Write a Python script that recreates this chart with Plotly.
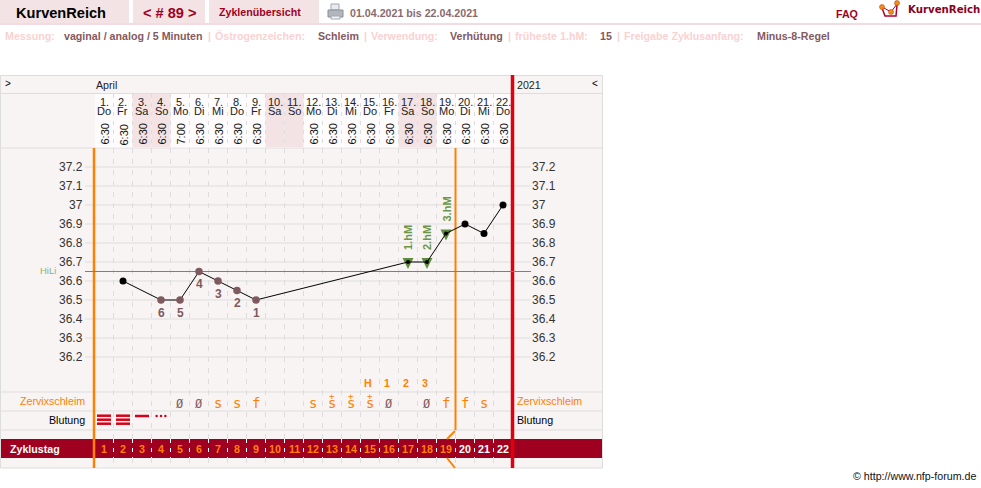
import plotly.graph_objects as go

W, H = 981, 488
# ---------- data ----------
days = list(range(1, 23))
date_labels = [f"{d}." for d in days]
weekdays = ["Do","Fr","Sa","So","Mo","Di","Mi","Do","Fr","Sa","So","Mo","Di","Mi","Do","Fr","Sa","So","Mo","Di","Mi","Do"]
times = ["6:30","6:30","6:30","6:30","7:00","6:30","6:30","6:30","6:30","","","6:30","6:30","6:30","6:30","6:30","6:30","6:30","6:30","6:30","6:30","6:30"]
temp_days = [2, 4, 5, 6, 7, 8, 9, 17, 18, 19, 20, 21, 22]
temps = [36.6, 36.5, 36.5, 36.65, 36.6, 36.55, 36.5, 36.7, 36.7, 36.85, 36.9, 36.85, 37.0]
counted_days = [4, 5, 6, 7, 8, 9]
counted_temps = [36.5, 36.5, 36.65, 36.6, 36.55, 36.5]
counted_labels = ["6", "5", "4", "3", "2", "1"]
hm_days = [17, 18, 19]
hm_temps = [36.7, 36.7, 36.85]
hm_labels = ["1.hM", "2.hM", "3.hM"]
hili = 36.65
y_ticks = [36.2, 36.3, 36.4, 36.5, 36.6, 36.7, 36.8, 36.9, 37.0, 37.1, 37.2]
y_tick_labels = ["36.2","36.3","36.4","36.5","36.6","36.7","36.8","36.9","37","37.1","37.2"]
mucus_days = [5, 6, 7, 8, 9, 12, 13, 14, 15, 16, 18, 19, 20, 21]
mucus = ["Ø","Ø","s","s","f","s","s+","s+","s+","Ø","Ø","f","f","s"]
peak_days = [15, 16, 17, 18]
peak_labels = ["H", "1", "2", "3"]
bleed_days = [1, 2, 3, 4]
bleed = [3, 3, 1, 0]
weekend_days = [3, 4, 10, 11, 17, 18]

# ---------- scale helpers ----------
X0, DX = 104, 19           # px of day 1, px per day
Y0, DY = 167, 190          # px of 37.2, px per 1 degree
def px2day(p): return 1 + (p - X0) / DX
def py2t(p): return 37.2 - (p - Y0) / DY
def day2px(d): return X0 + (d - 1) * DX
def t2py(t): return Y0 + (37.2 - t) * DY
def pxx(p): return p / W
def pxy(p): return 1 - p / H

PANEL, LINE, ROSE, DARKRED = "#f9f4f4", "#dddddd", "#f3e3e5", "#a00020"
ORANGE, RED, GREEN, BROWN = "#ff8000", "#e00010", "#5f8c3c", "#7e5a5e"
PINK, MUTED = "#fad2d2", "#84595f"
SANS = "Liberation Sans, Arial, sans-serif"
NARROW = "Liberation Sans Narrow, Liberation Sans, Arial, sans-serif"
MONO = "DejaVu Sans Mono, monospace"
F8 = 10.67

shapes, ann = [], []
def rect(x0, y0, x1, y1, fill, line=None):
    shapes.append(dict(type="rect", xref="paper", yref="paper", x0=pxx(x0), x1=pxx(x1), y0=pxy(y0), y1=pxy(y1),
                       fillcolor=fill, line=dict(width=0 if line is None else 1, color=line or fill), layer="below"))
def seg(x0, y0, x1, y1, color, width=1, dash=None, layer="below"):
    shapes.append(dict(type="line", xref="paper", yref="paper", x0=pxx(x0), x1=pxx(x1), y0=pxy(y0), y1=pxy(y1),
                       line=dict(color=color, width=width, dash=dash), layer=layer))
def text(x, y, s, size=F8, color="#000", bold=False, anchor="left", family=SANS, angle=0):
    if anchor == "left":
        x -= 1
    ann.append(dict(xref="paper", yref="paper", x=pxx(x), y=pxy(y), text=f"<b>{s}</b>" if bold else s, showarrow=False,
                    xanchor=anchor, yanchor="middle", align=anchor, textangle=angle, borderpad=0,
                    font=dict(size=size, color=color, family=family)))

# top bar
rect(0, 0, 129, 23, ROSE); rect(133, 0, 205, 23, ROSE); rect(209, 0, 319, 23, ROSE)
rect(0, 23, W, 25, "#f3dcdf")
text(16, 13, "KurvenReich", 14.6, "#000", True)
text(169.5, 13, "&lt; # 89 &gt;", 14.6, DARKRED, True, "center")
text(259.5, 12, "Zyklenübersicht", F8, DARKRED, True, "center")
text(350, 13, "01.04.2021 bis 22.04.2021", F8, "#8a6a6e", True)
text(836, 14, "FAQ", F8, DARKRED, True)
text(908, 10, "KurvenReich", 10.2, "#8b0020", True, family="DejaVu Sans, sans-serif")
# printer icon
rect(331, 4, 339, 10, "#e8ecf0", "#a0a8b0"); rect(328, 10, 343, 17, "#b0b6bc", "#8a9096"); rect(331, 16, 340, 19, "#f0f2f4", "#a0a8b0")
# logo icon
shapes.append(dict(type="path", xref="paper", yref="paper", path=" ".join(
    [("M" if i == 0 else "L") + f"{pxx(a)},{pxy(b)}" for i, (a, b) in enumerate([(882, 8), (885, 16), (896, 16), (897, 5)])]),
    line=dict(color="#b00030", width=1.5)))
shapes.append(dict(type="path", xref="paper", yref="paper", path=" ".join(
    [("M" if i == 0 else "L") + f"{pxx(a)},{pxy(b)}" for i, (a, b) in enumerate([(884, 8), (891, 12), (897, 4)])]),
    line=dict(color="#b00030", width=1)))
for a, b in [(882, 7), (897, 3), (891, 12)]:
    shapes.append(dict(type="circle", xref="paper", yref="paper", x0=pxx(a - 2.5), x1=pxx(a + 2.5), y0=pxy(b - 2.5), y1=pxy(b + 2.5),
                       fillcolor="#f09010", line=dict(width=0.5, color="#c03010")))

# info row
info = [(5, "Messung:", 1), (64, "vaginal / analog / 5 Minuten", 0), (208, "|", 1), (215, "Östrogenzeichen:", 1),
        (318, "Schleim", 0), (364, "|", 1), (371, "Verwendung:", 1), (450, "Verhütung", 0), (508, "|", 1),
        (515, "früheste 1.hM:", 1), (600, "15", 0), (617, "|", 1), (624, "Freigabe Zyklusanfang:", 1), (757, "Minus-8-Regel", 0)]
for x, s, light in info:
    text(x, 36, s, F8, PINK if light else MUTED, True)

# panel
rect(0.5, 75.5, 602.5, 468, PANEL, LINE)
seg(0, 93.5, 603, 93.5, LINE); seg(0, 148, 603, 148, LINE)
for y in (392, 411, 430):
    seg(0, y, 603, y, LINE)
rect(95, 94, 512, 147.5, "#fdfbfb")
for d in weekend_days:
    rect(day2px(d) - 9.5, 94, day2px(d) + 9.5, 147.5, ROSE)
for t in y_ticks:
    seg(85, t2py(t), 531, t2py(t), LINE)
for d in days[:-1]:
    xb = day2px(d) + 9.5
    seg(xb, 94, xb, 148, LINE, 1, "4px,5px")
    seg(xb, 148, xb, 439, LINE, 1, "5px,6px")
    seg(xb, 458, xb, 468, LINE, 1, "5px,5px")
rect(1, 439, 602, 458, DARKRED)
for d in days[:-1]:
    xb = day2px(d) + 9.5
    seg(xb, 439, xb, 458, "#ffffff", 1, "4px,5px")

# vertical markers
seg(94, 148, 94, 468, ORANGE, 2.5)
seg(455.5, 148, 455.5, 430, ORANGE, 2)
seg(455, 431, 447, 439, ORANGE, 2); seg(447, 458, 455, 468, ORANGE, 2)
seg(512.5, 75, 512.5, 468, RED, 3.5)
seg(85, t2py(hili), 531, t2py(hili), "#6f8f4c", 1)

# high-measurement triangles, anchored on the data, sized in pixels
for d, t in zip(hm_days, hm_temps):
    shapes.append(dict(type="path", xref="x", yref="y", xsizemode="pixel", ysizemode="pixel", xanchor=d, yanchor=t,
                       path="M-5.5,4 L5.5,4 L0,-7 Z", fillcolor=GREEN, line=dict(width=0), layer="below"))

# texts
text(5, 83, "&gt;", 10); text(595, 83, "&lt;", 10, anchor="center")
text(96, 85, "April", F8, "#222"); text(517, 85, "2021", F8, "#222")
for d, a, b, c in zip(days, date_labels, weekdays, times):
    x = day2px(d)
    text(x, 102, a, 11, "#222", anchor="center", family=NARROW)
    text(x, 111.5, b, 11, "#222", anchor="center", family=NARROW)
    if c:
        text(x, 134.5, c, 11, "#111", anchor="center", angle=-90, family=NARROW)
for t, s in zip(y_ticks, y_tick_labels):
    text(84, t2py(t), s, 12, "#333", anchor="right")
    text(532, t2py(t), s, 12, "#333")
text(40, 270.5, "HiLi", 9.5, "#8fb070")
text(86, 401, "Zervixschleim", F8, ORANGE, anchor="right"); text(517, 401, "Zervixschleim", F8, ORANGE)
text(86, 420, "Blutung", F8, "#000", anchor="right"); text(517, 420, "Blutung", F8, "#000")
text(10, 449, "Zyklustag", F8, "#fff", True)
for d in days:
    text(day2px(d), 449, str(d), F8, ORANGE if d <= 19 else "#fff", True, "center")
for d, s in zip(peak_days, peak_labels):
    text(day2px(d) - 2, 383, s, F8, ORANGE, anchor="center", bold=True)
for d, s in zip(mucus_days, mucus):
    x = day2px(d)
    if s == "Ø":
        text(x, 404, "Ø", 12, "#7e5a5e", anchor="center", family=MONO)
    else:
        text(x, 403, s[0], 14, ORANGE, anchor="center", family=MONO)
        if "+" in s:
            text(x, 396, "+", 9, ORANGE, anchor="center", family=MONO)
for d, t, s in zip(counted_days, counted_temps, counted_labels):
    text(day2px(d), t2py(t) + 12.5, s, 12, BROWN, True, "center")
for d, t, s in zip(hm_days, hm_temps, hm_labels):
    text(day2px(d), t2py(t) - 24, s, 11, "#6a9645", True, "center", angle=-90)
text(977, 476, "© http://www.nfp-forum.de", F8, "#111", anchor="right")

# ---------- marks ----------
fig = go.Figure()
bx, by = [], []
for d, n in zip(bleed_days, bleed):
    for i in range(n):
        bx.append(d); by.append(py2t((415.7 if n > 1 else 416) + 4 * i))
fig.add_trace(go.Scatter(x=bx, y=by, mode="markers", hoverinfo="skip",
    marker=dict(symbol="line-ew", size=10, line=dict(color="#d80018", width=2.5))))
dot_x = [bleed_days[3] + o / DX for o in (-4.4, 0, 4.4)]
fig.add_trace(go.Scatter(x=dot_x, y=[py2t(416)] * 3, mode="markers", hoverinfo="skip",
    marker=dict(symbol="circle", size=2.5, color="#d80018")))
fig.add_trace(go.Scatter(x=temp_days, y=temps, mode="lines", line=dict(color="#000", width=1)))
fig.add_trace(go.Scatter(x=temp_days[:1] + temp_days[-3:], y=temps[:1] + temps[-3:], mode="markers",
    marker=dict(size=7, color="#000")))
fig.add_trace(go.Scatter(x=counted_days, y=counted_temps, mode="markers", marker=dict(size=7.5, color=BROWN)))
fig.add_trace(go.Scatter(x=hm_days, y=hm_temps, mode="markers", marker=dict(size=4, color="#000")))

axis = dict(showgrid=False, zeroline=False, showticklabels=False, ticks="", showline=False, fixedrange=True)
fig.update_layout(width=W, height=H, margin=dict(l=0, r=0, t=0, b=0), showlegend=False,
    paper_bgcolor="#fff", plot_bgcolor="rgba(0,0,0,0)", shapes=shapes, annotations=ann,
    xaxis=dict(range=[px2day(0), px2day(W)], **axis), yaxis=dict(range=[py2t(H), py2t(0)], **axis))
fig.write_html("out.html", config=dict(displayModeBar=False),
               post_script="document.body.style.margin='0';document.documentElement.style.overflow='hidden';")
